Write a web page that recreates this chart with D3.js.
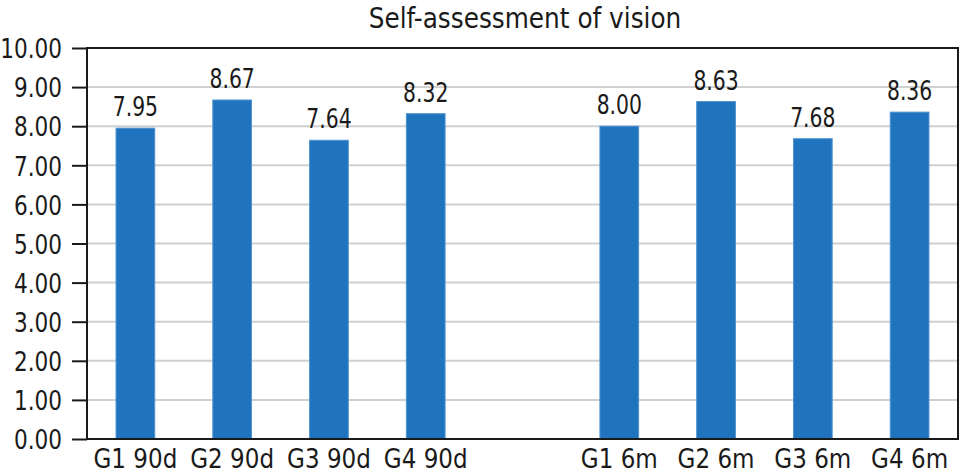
<!DOCTYPE html>
<html>
<head>
<meta charset="UTF-8">
<title>Self-assessment of vision</title>
<script src="https://cdn.jsdelivr.net/npm/d3@7"></script>
<style>
    body { margin: 0; background: #fff; }
    text { font-family: "DejaVu Sans Condensed", "Liberation Sans Narrow", sans-serif; fill: #1a1a1a; }
    .grid line { stroke: #d0d0d0; stroke-width: 2px; }
    .bar { fill: #1f74bd; stroke: #4f93d1; stroke-width: 1px; }
</style>
</head>
<body>
<div id="vis"></div>
<script>
    var categories = ["G1 90d", "G2 90d", "G3 90d", "G4 90d", "", "G1 6m", "G2 6m", "G3 6m", "G4 6m"];
    var values = [7.95, 8.67, 7.64, 8.32, null, 8.00, 8.63, 7.68, 8.36];
    var yTicks = [0, 1, 2, 3, 4, 5, 6, 7, 8, 9, 10];

    var width = 962, height = 473;
    var margin = {top: 48, right: 4, bottom: 34, left: 87};

    var svg = d3.select("#vis").append("svg")
        .attr("width", width)
        .attr("height", height);

    // narrow the glyphs a bit (original uses a condensed face)
    function squeeze(sel, s) {
        sel.each(function() {
            var t = d3.select(this);
            var x0 = +t.attr("x") || 0;
            t.attr("x", x0 / s).attr("transform", "scale(" + s + ",1)");
        });
    }

    var x = d3.scaleBand()
        .domain(d3.range(categories.length))
        .range([margin.left, width - margin.right])
        .paddingInner(0.6)
        .paddingOuter(0.3);

    var y = d3.scaleLinear()
        .domain([0, 10])
        .range([height - margin.bottom, margin.top]);

    // gridlines
    svg.append("g")
        .attr("class", "grid")
        .selectAll("line")
        .data(yTicks.filter(function(d) { return d > 0 && d < 10; }))
        .enter().append("line")
        .attr("x1", margin.left)
        .attr("x2", width - margin.right)
        .attr("y1", function(d) { return y(d); })
        .attr("y2", function(d) { return y(d); });

    // bars
    var data = categories.map(function(c, i) { return {cat: c, val: values[i], i: i}; })
        .filter(function(d) { return d.val !== null; });

    svg.selectAll(".bar")
        .data(data)
        .enter().append("rect")
        .attr("class", "bar")
        .attr("x", function(d) { return x(d.i); })
        .attr("width", x.bandwidth())
        .attr("y", function(d) { return y(d.val); })
        .attr("height", function(d) { return y(0) - y(d.val); });

    var vals = svg.selectAll(".val")
        .data(data)
        .enter().append("text")
        .attr("class", "val")
        .attr("x", function(d) { return x(d.i) + x.bandwidth() / 2; })
        .attr("y", function(d) { return y(d.val) - 12; })
        .attr("text-anchor", "middle")
        .style("font-size", "26px")
        .text(function(d) { return d.val.toFixed(2); });
    squeeze(vals, 0.87);

    // frame
    svg.append("rect")
        .attr("x", margin.left)
        .attr("y", margin.top)
        .attr("width", width - margin.left - margin.right)
        .attr("height", height - margin.top - margin.bottom)
        .attr("fill", "none")
        .attr("stroke", "#1a1a1a")
        .attr("stroke-width", 2);

    // y axis
    var yAxis = svg.append("g")
        .attr("transform", "translate(" + margin.left + ",0)")
        .call(d3.axisLeft(y).tickValues(yTicks).tickSize(15)
            .tickFormat(function(d) { return d.toFixed(2); }));
    yAxis.select(".domain").remove();
    yAxis.selectAll(".tick line").attr("stroke", "#1a1a1a").attr("stroke-width", 2);
    var yText = yAxis.selectAll("text").style("font-size", "27px").attr("fill", "#1a1a1a").attr("x", -25).attr("dy", "0.36em");
    squeeze(yText, 0.89);

    // x labels
    var xAxis = svg.append("g")
        .attr("transform", "translate(0," + (height - margin.bottom) + ")")
        .call(d3.axisBottom(x).tickSize(0).tickPadding(0)
            .tickFormat(function(i) { return categories[i]; }));
    xAxis.select(".domain").remove();
    var xText = xAxis.selectAll("text").style("font-size", "27px").attr("fill", "#1a1a1a").attr("y", 29).attr("dy", 0);
    squeeze(xText, 0.95);

    // title
    var title = svg.append("text")
        .attr("x", 525)
        .attr("y", 28)
        .attr("text-anchor", "middle")
        .style("font-size", "29px")
        .text("Self-assessment of vision");
    squeeze(title, 0.95);
</script>
</body>
</html>
